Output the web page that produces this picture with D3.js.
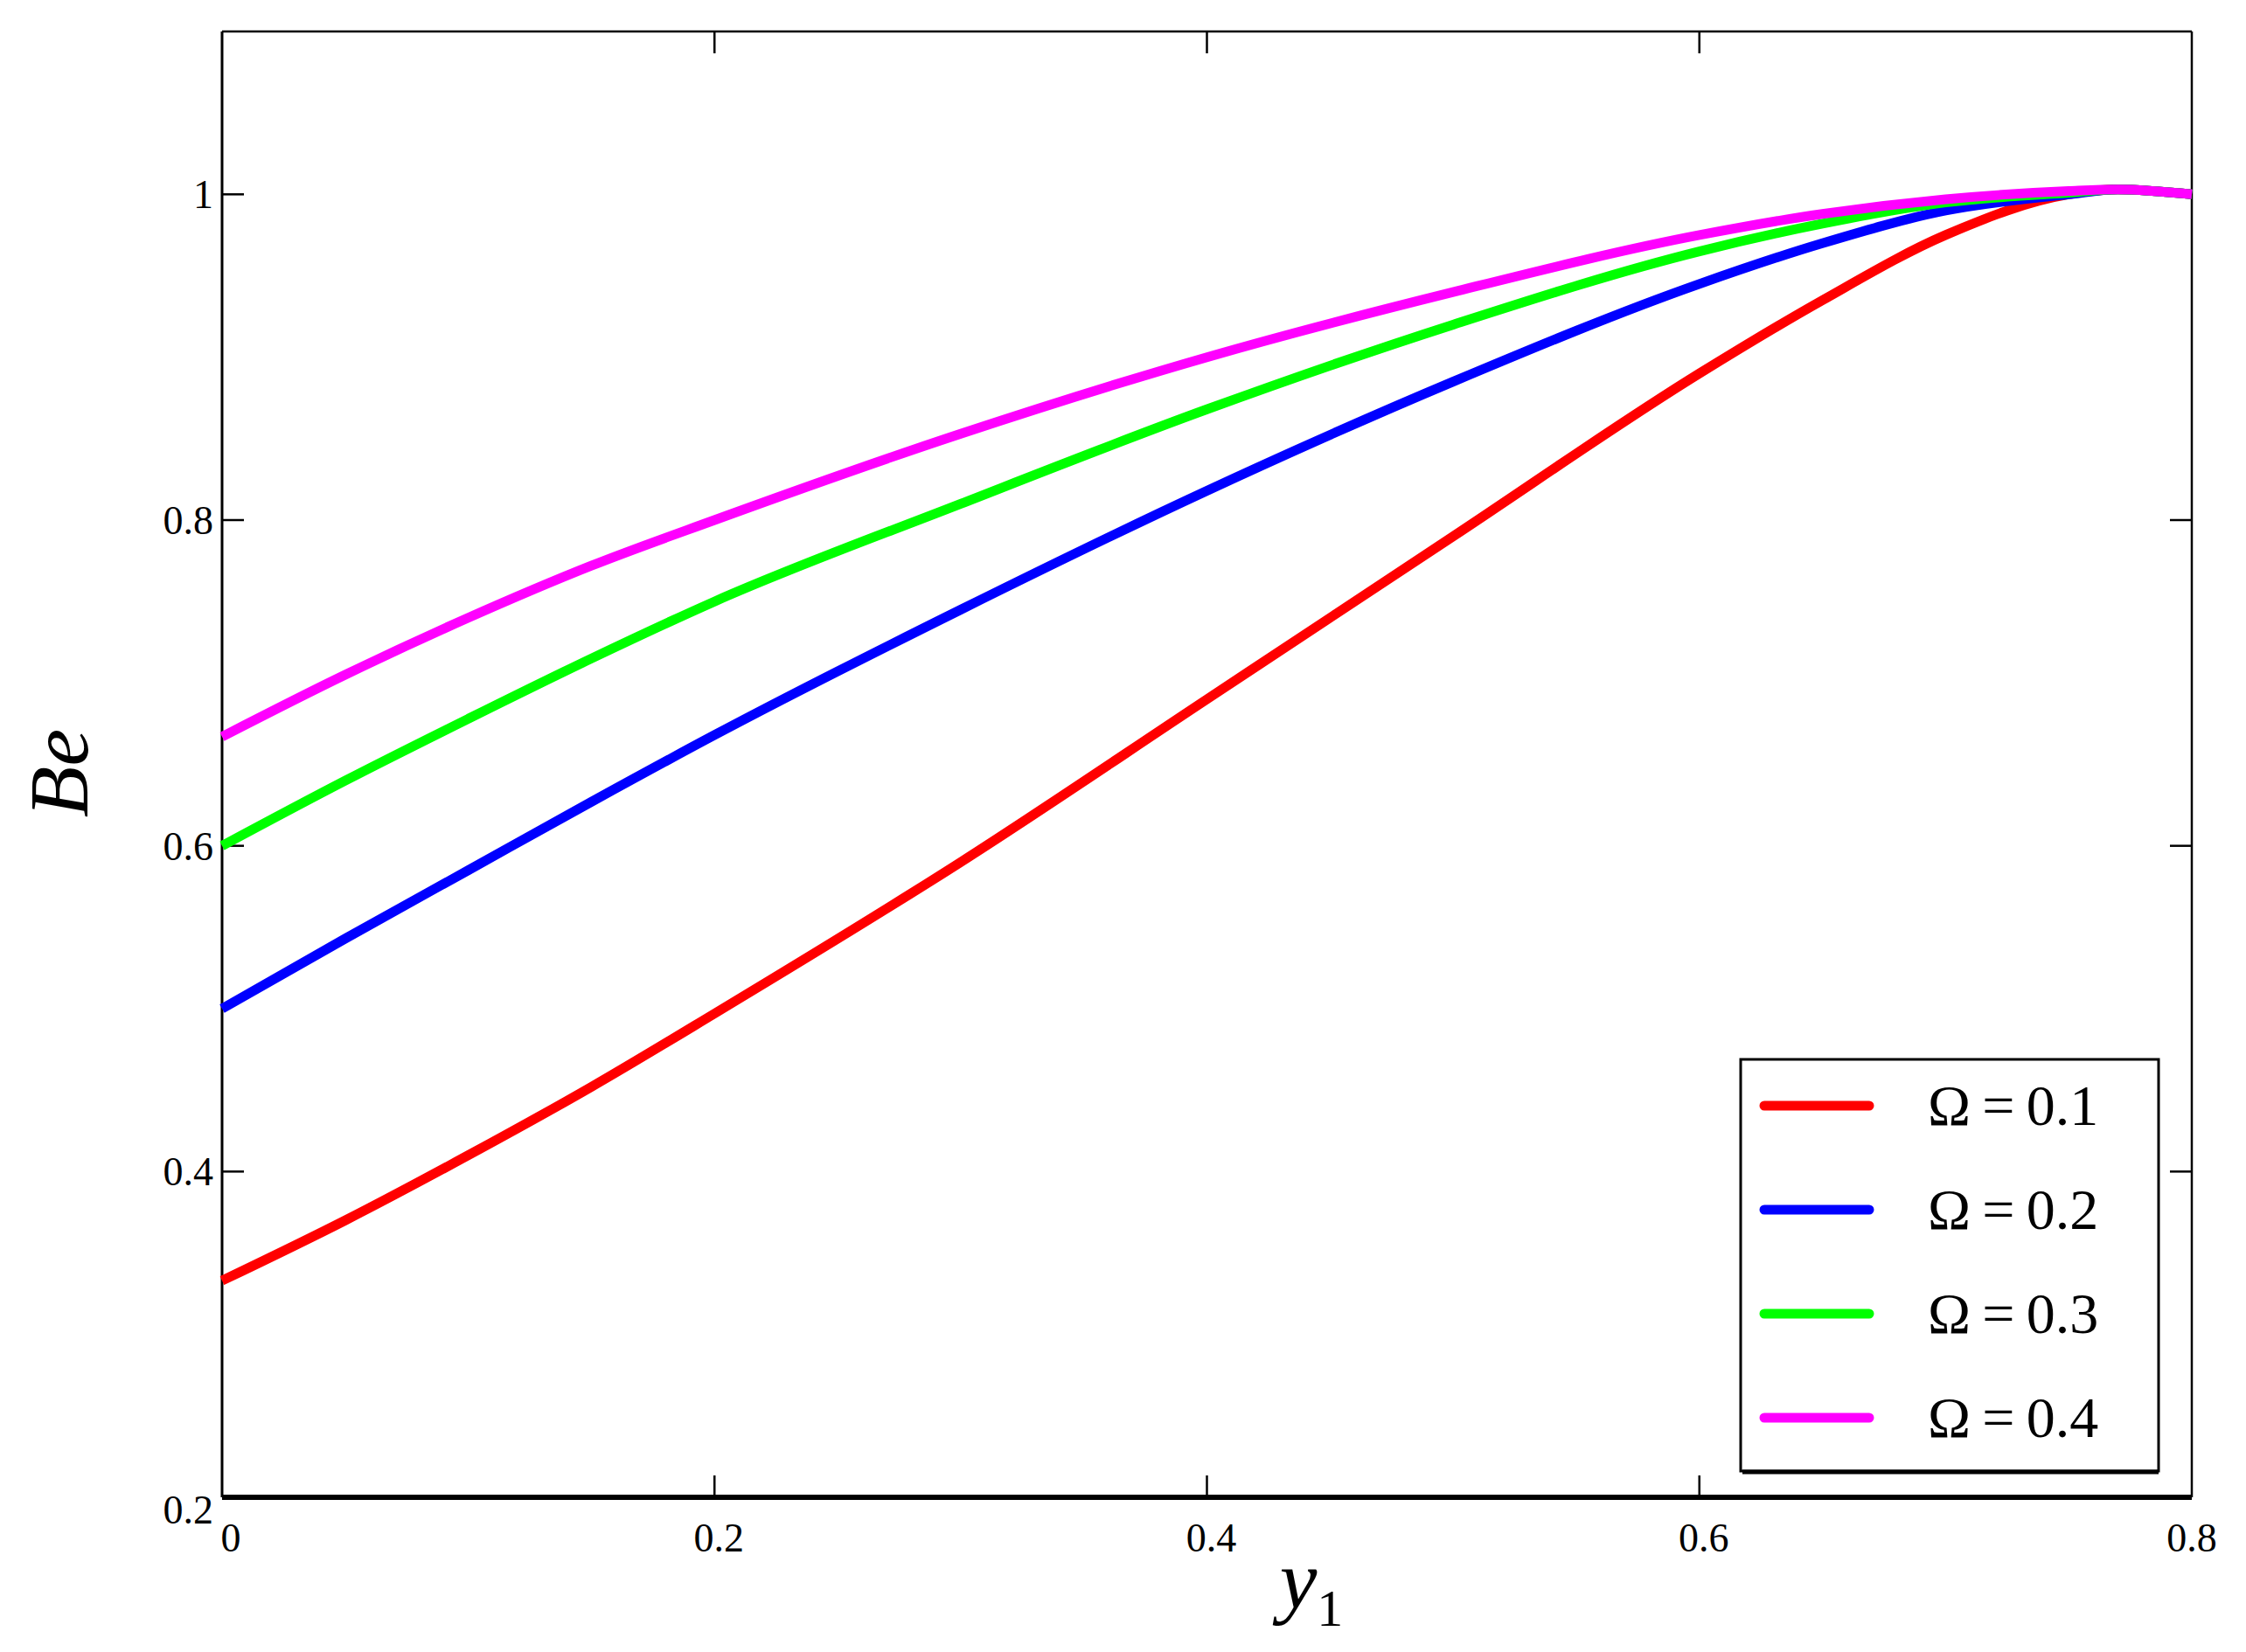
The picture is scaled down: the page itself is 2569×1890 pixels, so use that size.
<!DOCTYPE html>
<html><head><meta charset="utf-8">
<script src="https://cdn.jsdelivr.net/npm/d3@7"></script>
<style>body{margin:0;background:#fff}text{font-family:"Liberation Serif","DejaVu Serif",serif}</style>
</head><body><svg id="c" width="2569" height="1890"></svg>
<script>
// values
const xs = [0, 0.05, 0.1, 0.15, 0.2, 0.3, 0.4, 0.5, 0.6, 0.65, 0.7, 0.75, 0.77, 0.8];
const series = [
  { label: "0.1", color: "#ff0000", ys: [0.333, 0.37, 0.41, 0.452, 0.497, 0.59, 0.69, 0.79, 0.89, 0.935, 0.975, 1.0, 1.003, 1.0] },
  { label: "0.2", color: "#0000ff", ys: [0.5, 0.543, 0.585, 0.627, 0.668, 0.745, 0.818, 0.885, 0.945, 0.97, 0.99, 1.0, 1.003, 1.0] },
  { label: "0.3", color: "#00ff00", ys: [0.6, 0.64, 0.678, 0.715, 0.75, 0.81, 0.868, 0.92, 0.965, 0.982, 0.995, 1.001, 1.003, 1.0] },
  { label: "0.4", color: "#ff00ff", ys: [0.667, 0.705, 0.74, 0.772, 0.80, 0.853, 0.9, 0.94, 0.975, 0.988, 0.997, 1.002, 1.003, 1.0] }
];
const xTicks = [0, 0.2, 0.4, 0.6, 0.8];
const yTicks = [0.2, 0.4, 0.6, 0.8, 1];

const L = 254, R = 2507, T = 36, B = 1713;
const svg = d3.select("#c");
const x = d3.scaleLinear().domain([0, 0.8]).range([L, R]);
const y = d3.scaleLinear().domain([0.2, 1.1]).range([B, T]);

// frame
svg.append("line").attr("x1", L).attr("x2", R).attr("y1", T).attr("y2", T).attr("stroke", "#000").attr("stroke-width", 2.5);
svg.append("line").attr("x1", R).attr("x2", R).attr("y1", T).attr("y2", B).attr("stroke", "#000").attr("stroke-width", 2.5);
svg.append("line").attr("x1", L).attr("x2", L).attr("y1", T).attr("y2", B).attr("stroke", "#000").attr("stroke-width", 3);
svg.append("line").attr("x1", L).attr("x2", R).attr("y1", B).attr("y2", B).attr("stroke", "#000").attr("stroke-width", 6);

// inner ticks
const tk = 25;
xTicks.slice(1, -1).forEach(v => {
  svg.append("line").attr("x1", x(v)).attr("x2", x(v)).attr("y1", B).attr("y2", B - tk).attr("stroke", "#000").attr("stroke-width", 2.5);
  svg.append("line").attr("x1", x(v)).attr("x2", x(v)).attr("y1", T).attr("y2", T + tk).attr("stroke", "#000").attr("stroke-width", 2.5);
});
yTicks.slice(1).forEach(v => {
  svg.append("line").attr("x1", L).attr("x2", L + tk).attr("y1", y(v)).attr("y2", y(v)).attr("stroke", "#000").attr("stroke-width", 2.5);
  svg.append("line").attr("x1", R).attr("x2", R - tk).attr("y1", y(v)).attr("y2", y(v)).attr("stroke", "#000").attr("stroke-width", 2.5);
});

// tick labels
svg.selectAll("text.xt").data(xTicks).join("text").attr("class", "xt")
  .attr("x", (d, i) => x(d) + (i === 0 ? 10 : i === xTicks.length - 1 ? 0 : 5)).attr("y", B + 62)
  .attr("text-anchor", "middle").attr("font-size", 46).text(d => d3.format("")(d));
svg.selectAll("text.yt").data(yTicks).join("text").attr("class", "yt")
  .attr("x", L - 10).attr("y", d => y(d) + (d === 0.2 ? 30 : 16))
  .attr("text-anchor", "end").attr("font-size", 46).text(d => d);

// axis titles
svg.append("text").attr("transform", `translate(100,${(T + B) / 2 + 10}) rotate(-90)`)
  .attr("text-anchor", "middle").attr("font-size", 96).attr("font-style", "italic").text("Be");
const xl = svg.append("text").attr("x", 1500).attr("y", 1840).attr("text-anchor", "middle")
  .attr("font-size", 96).attr("font-style", "italic").text("y");
xl.append("tspan").attr("font-style", "normal").attr("font-size", 60).attr("dy", 20).text("1");

// curves
const line = d3.line().x(d => x(d[0])).y(d => y(d[1])).curve(d3.curveMonotoneX);
series.forEach(s => {
  svg.append("path").attr("d", line(xs.map((v, i) => [v, s.ys[i]])))
    .attr("fill", "none").attr("stroke", s.color).attr("stroke-width", 11);
});

// legend
svg.append("rect").attr("x", 1991).attr("y", 1212).attr("width", 478).attr("height", 471)
  .attr("fill", "#fff").attr("stroke", "#000").attr("stroke-width", 3);
svg.append("line").attr("x1", 1993).attr("x2", 2469).attr("y1", 1684).attr("y2", 1684).attr("stroke", "#000").attr("stroke-width", 5);
series.forEach((s, i) => {
  const yy = 1265 + i * 119;
  svg.append("line").attr("x1", 2018).attr("x2", 2138).attr("y1", yy).attr("y2", yy)
    .attr("stroke", s.color).attr("stroke-width", 11).attr("stroke-linecap", "round");
  svg.append("text").attr("x", 2205).attr("y", yy + 22).attr("font-size", 66)
    .text("Ω\u2009=\u20090." + s.label.slice(2));
});
</script></body></html>
